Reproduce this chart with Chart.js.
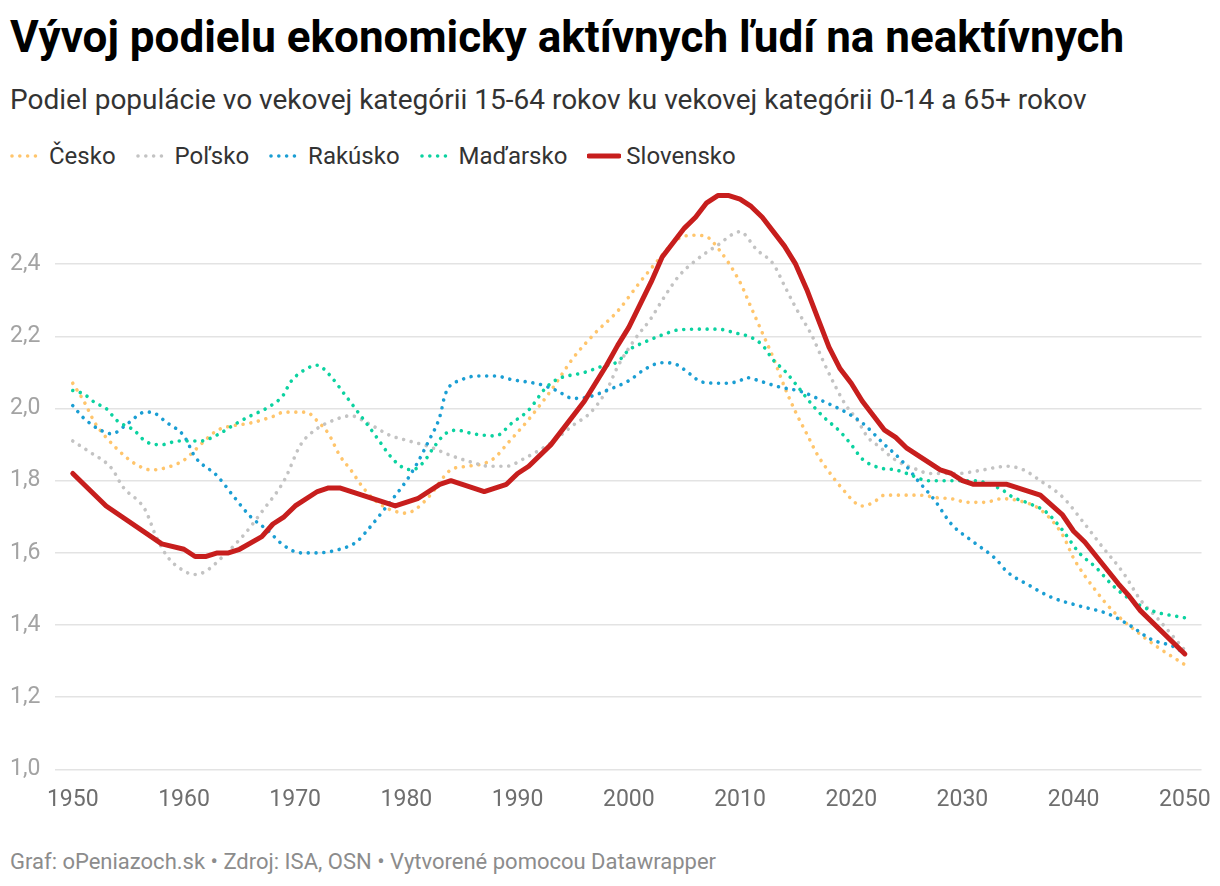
<!DOCTYPE html>
<html>
<head>
<meta charset="utf-8">
<script src="https://cdn.jsdelivr.net/npm/chart.js@4.4.1/dist/chart.umd.min.js"></script>
<style>
  body { margin: 0; background: #fff; font-family: Roboto, sans-serif; }
  #wrap { position: relative; width: 1220px; height: 886px; overflow: hidden; }
  #title { position: absolute; left: 10px; top: 11px; font-size: 44px; line-height: 52px; font-weight: 700; color: #000; white-space: nowrap; }
  #subtitle { position: absolute; left: 10px; top: 83px; font-size: 28px; line-height: 34px; color: #333; white-space: nowrap; }
  #legend { position: absolute; left: 10px; top: 141px; height: 30px; display: flex; align-items: center; font-size: 24px; color: #333; }
  #legend .item { display: flex; align-items: center; margin-right: 20px; }
  #legend svg { margin-right: 5px; }
  #box { position: absolute; left: 0; top: 170px; width: 1228px; height: 674px; }
  #footer { position: absolute; left: 10px; top: 849px; font-size: 22px; line-height: 26px; color: #8c8c8c; white-space: nowrap; }
</style>
</head>
<body>
<div id="wrap">
  <div id="title">Vývoj podielu ekonomicky aktívnych ľudí na neaktívnych</div>
  <div id="subtitle">Podiel populácie vo vekovej kategórii 15-64 rokov ku vekovej kategórii 0-14 a 65+ rokov</div>
  <div id="legend"></div>
  <div id="box"><canvas id="chart"></canvas></div>
  <div id="footer">Graf: oPeniazoch.sk • Zdroj: ISA, OSN • Vytvorené pomocou Datawrapper</div>
</div>
<script>
const xTicks = [1950, 1960, 1970, 1980, 1990, 2000, 2010, 2020, 2030, 2040, 2050];
const yTicks = [1.0, 1.2, 1.4, 1.6, 1.8, 2.0, 2.2, 2.4];

const ceskoYears = [1950, 1951, 1952, 1953, 1955, 1956, 1957, 1958, 1960, 1961, 1962, 1963, 1964, 1966, 1968, 1969, 1971, 1972, 1973, 1974, 1975, 1976, 1977, 1978, 1979, 1980, 1981, 1982, 1984, 1985.5, 1987, 1988, 1989, 1991, 1993, 1995, 1997, 1999, 2001, 2003, 2004, 2005, 2006, 2007, 2008, 2010, 2011, 2012, 2013, 2014, 2015, 2016, 2017, 2018, 2019, 2021, 2022, 2023, 2026, 2028, 2029, 2030.5, 2032, 2033.5, 2035, 2037, 2039, 2040, 2042, 2043.5, 2045.5, 2047.5, 2050];
const ceskoValues = [2.07, 2.02, 1.96, 1.92, 1.86, 1.84, 1.83, 1.833, 1.857, 1.885, 1.915, 1.94, 1.95, 1.96, 1.978, 1.99, 1.99, 1.965, 1.93, 1.87, 1.83, 1.785, 1.75, 1.728, 1.715, 1.71, 1.725, 1.755, 1.83, 1.84, 1.848, 1.865, 1.9, 1.97, 2.05, 2.14, 2.21, 2.27, 2.35, 2.425, 2.46, 2.478, 2.48, 2.476, 2.445, 2.35, 2.28, 2.21, 2.14, 2.06, 1.99, 1.93, 1.87, 1.825, 1.785, 1.73, 1.74, 1.76, 1.76, 1.752, 1.75, 1.74, 1.74, 1.75, 1.745, 1.72, 1.65, 1.585, 1.495, 1.44, 1.386, 1.34, 1.29];

const polskoYears = [1950, 1951.5, 1953.5, 1954.5, 1956.5, 1957.5, 1958.5, 1960, 1961, 1962, 1963.5, 1965.5, 1967, 1969, 1970.5, 1972, 1973.5, 1975, 1976.5, 1978.5, 1980, 1982, 1984, 1986, 1987.5, 1989, 1990.5, 1993, 1995, 1996.5, 1998, 1999, 2000.5, 2002, 2003, 2004.5, 2006, 2008, 2010, 2011.5, 2013, 2014, 2015, 2016.5, 2017.5, 2018.5, 2019.5, 2020.5, 2021.5, 2022.5, 2024, 2026, 2027, 2029.5, 2031.5, 2034, 2035.5, 2037, 2039, 2041, 2042.5, 2044.5, 2046, 2047.5, 2050];
const polskoValues = [1.91, 1.88, 1.834, 1.783, 1.72, 1.645, 1.59, 1.55, 1.54, 1.55, 1.59, 1.654, 1.714, 1.8, 1.9, 1.945, 1.968, 1.98, 1.96, 1.926, 1.912, 1.895, 1.87, 1.85, 1.84, 1.84, 1.86, 1.905, 1.954, 1.987, 2.05, 2.116, 2.19, 2.25, 2.3, 2.367, 2.41, 2.453, 2.49, 2.44, 2.4, 2.34, 2.28, 2.2, 2.13, 2.066, 2.01, 1.97, 1.92, 1.895, 1.857, 1.83, 1.82, 1.82, 1.828, 1.84, 1.83, 1.8, 1.755, 1.68, 1.62, 1.543, 1.47, 1.42, 1.33];

const rakuskoYears = [1950, 1951, 1952.5, 1953.5, 1955, 1956.5, 1957, 1958.5, 1960, 1961, 1963, 1964.5, 1966, 1967.5, 1969, 1970.5, 1972, 1974, 1975.5, 1976.5, 1978, 1980, 1981, 1982, 1983, 1983.5, 1985, 1986.5, 1988, 1989.5, 1992, 1993.5, 1995, 1996.5, 1998, 2000, 2001.5, 2003, 2004, 2005.5, 2006.5, 2008.5, 2010, 2010.5, 2012, 2013.5, 2015.5, 2017.5, 2019.5, 2021, 2023, 2024.5, 2026, 2027.5, 2029, 2031, 2033, 2034, 2036, 2038, 2040.5, 2043, 2045, 2047, 2049, 2050];
const rakuskoValues = [2.008, 1.973, 1.94, 1.93, 1.96, 1.99, 1.99, 1.96, 1.924, 1.866, 1.813, 1.755, 1.7, 1.663, 1.62, 1.6, 1.6, 1.61, 1.63, 1.663, 1.72, 1.8, 1.85, 1.91, 1.977, 2.04, 2.08, 2.09, 2.09, 2.08, 2.067, 2.05, 2.028, 2.033, 2.05, 2.077, 2.11, 2.127, 2.125, 2.096, 2.074, 2.07, 2.077, 2.086, 2.074, 2.06, 2.047, 2.02, 1.99, 1.96, 1.9, 1.857, 1.8, 1.746, 1.68, 1.63, 1.583, 1.548, 1.51, 1.477, 1.453, 1.432, 1.4, 1.36, 1.34, 1.32];

const madarskoYears = [1950, 1951, 1952, 1953, 1954, 1955.5, 1956.5, 1957.5, 1958, 1959.5, 1961.5, 1963, 1964.5, 1966, 1967.5, 1969, 1969.5, 1971, 1972, 1973, 1974.5, 1975.5, 1976.5, 1977.5, 1978.5, 1979.5, 1980.5, 1981.5, 1982.5, 1983.5, 1984.5, 1986, 1988, 1989.5, 1991, 1992.5, 1993.5, 1996, 1997.5, 1999, 2000, 2001.5, 2003, 2004.5, 2006.5, 2008, 2009.5, 2011, 2012, 2013, 2014, 2015, 2016.5, 2017.5, 2019, 2020, 2021, 2022.5, 2024, 2025, 2027, 2031, 2033.5, 2034.5, 2036, 2037.5, 2039, 2040.5, 2042, 2043.5, 2045, 2047, 2050];
const madarskoValues = [2.05, 2.04, 2.016, 2.0, 1.966, 1.94, 1.91, 1.9, 1.9, 1.91, 1.91, 1.927, 1.955, 1.98, 2.002, 2.04, 2.07, 2.11, 2.12, 2.096, 2.037, 1.996, 1.955, 1.913, 1.87, 1.84, 1.83, 1.85, 1.894, 1.93, 1.94, 1.93, 1.924, 1.96, 1.996, 2.056, 2.08, 2.1, 2.116, 2.13, 2.162, 2.185, 2.204, 2.218, 2.22, 2.22, 2.21, 2.197, 2.176, 2.134, 2.105, 2.068, 2.01, 1.977, 1.936, 1.9, 1.86, 1.836, 1.83, 1.82, 1.8, 1.8, 1.776, 1.755, 1.737, 1.714, 1.663, 1.6, 1.56, 1.51, 1.473, 1.44, 1.42];

const slovenskoYears = [1950, 1953, 1958, 1960, 1961, 1962, 1963, 1964, 1965, 1967, 1968, 1969, 1970, 1972, 1973, 1974, 1979, 1981, 1983, 1984, 1987, 1989, 1990, 1991, 1993, 1996, 1998, 1999, 2000, 2002, 2003, 2005, 2006, 2007, 2008, 2009, 2010, 2011, 2012, 2014, 2015, 2016, 2017, 2018, 2019, 2020, 2021, 2022, 2023, 2024, 2025, 2028, 2029, 2030, 2031, 2034, 2037, 2039, 2040, 2041, 2044, 2045, 2046, 2050];
const slovenskoValues = [1.82, 1.73, 1.625, 1.61, 1.59, 1.59, 1.6, 1.6, 1.61, 1.645, 1.68, 1.7, 1.73, 1.77, 1.78, 1.78, 1.73, 1.75, 1.79, 1.8, 1.77, 1.79, 1.82, 1.84, 1.9, 2.02, 2.12, 2.175, 2.225, 2.35, 2.42, 2.5, 2.53, 2.57, 2.59, 2.59, 2.58, 2.56, 2.53, 2.45, 2.4, 2.33, 2.25, 2.17, 2.11, 2.07, 2.02, 1.98, 1.94, 1.92, 1.89, 1.83, 1.82, 1.8, 1.79, 1.79, 1.76, 1.705, 1.66, 1.63, 1.515, 1.48, 1.44, 1.32];

function points(years, values) {
  return years.map((y, i) => ({ x: y, y: values[i] }));
}

const dotted = {
  borderWidth: 3.6,
  borderDash: [0.01, 7.8],
  borderCapStyle: 'round',
  pointRadius: 0,
  cubicInterpolationMode: 'monotone',
  fill: false
};

const chart = new Chart(document.getElementById('chart'), {
  type: 'line',
  data: {
    datasets: [
      Object.assign({ label: 'Česko', data: points(ceskoYears, ceskoValues), borderColor: '#ffc56c', order: 5 }, dotted),
      Object.assign({ label: 'Poľsko', data: points(polskoYears, polskoValues), borderColor: '#c3c3c3', order: 4 }, dotted),
      Object.assign({ label: 'Rakúsko', data: points(rakuskoYears, rakuskoValues), borderColor: '#1a9ed3', order: 3 }, dotted),
      Object.assign({ label: 'Maďarsko', data: points(madarskoYears, madarskoValues), borderColor: '#0bd2a0', order: 2 }, dotted),
      {
        label: 'Slovensko',
        data: points(slovenskoYears, slovenskoValues),
        borderColor: '#c71e1d',
        borderWidth: 5,
        borderCapStyle: 'round',
        borderJoinStyle: 'round',
        pointRadius: 0,
        tension: 0,
        fill: false,
        order: 1
      }
    ]
  },
  options: {
    responsive: true,
    maintainAspectRatio: false,
    animation: false,
    layout: { autoPadding: false, padding: { left: 10, right: 20, top: 22, bottom: 13 } },
    plugins: {
      legend: { display: false },
      tooltip: { enabled: false }
    },
    scales: {
      x: {
        type: 'linear',
        min: 1948.4,
        max: 2051.5,
        afterBuildTicks: axis => { axis.ticks = xTicks.map(v => ({ value: v })); },
        grid: { display: false, drawTicks: false },
        border: { display: false },
        ticks: {
          color: '#6e6e6e',
          padding: 17,
          maxRotation: 0,
          font: { family: 'Roboto', size: 23 },
          callback: v => String(v)
        }
      },
      y: {
        min: 1.0,
        max: 2.6,
        afterBuildTicks: axis => { axis.ticks = yTicks.map(v => ({ value: v })); },
        grid: { color: '#e3e3e3', lineWidth: 1.5, drawTicks: false },
        border: { display: false },
        ticks: {
          color: '#a3a3a3',
          padding: 7.3,
          crossAlign: 'far',
          font: { family: 'Roboto', size: 23 },
          callback: v => v.toFixed(1).replace('.', ',')
        }
      }
    }
  }
});

// legend built from the chart's own datasets
const legend = document.getElementById('legend');
chart.data.datasets.forEach(ds => {
  const item = document.createElement('div');
  item.className = 'item';
  const solid = !ds.borderDash;
  item.innerHTML =
    '<svg width="34" height="10"><line x1="2" y1="5" x2="32" y2="5" stroke="' + ds.borderColor +
    '" stroke-width="' + (solid ? 5 : 3.6) + '" stroke-linecap="round"' +
    (solid ? '' : ' stroke-dasharray="0.01 7.8"') + '/></svg><span>' + ds.label + '</span>';
  legend.appendChild(item);
});
</script>
</body>
</html>
